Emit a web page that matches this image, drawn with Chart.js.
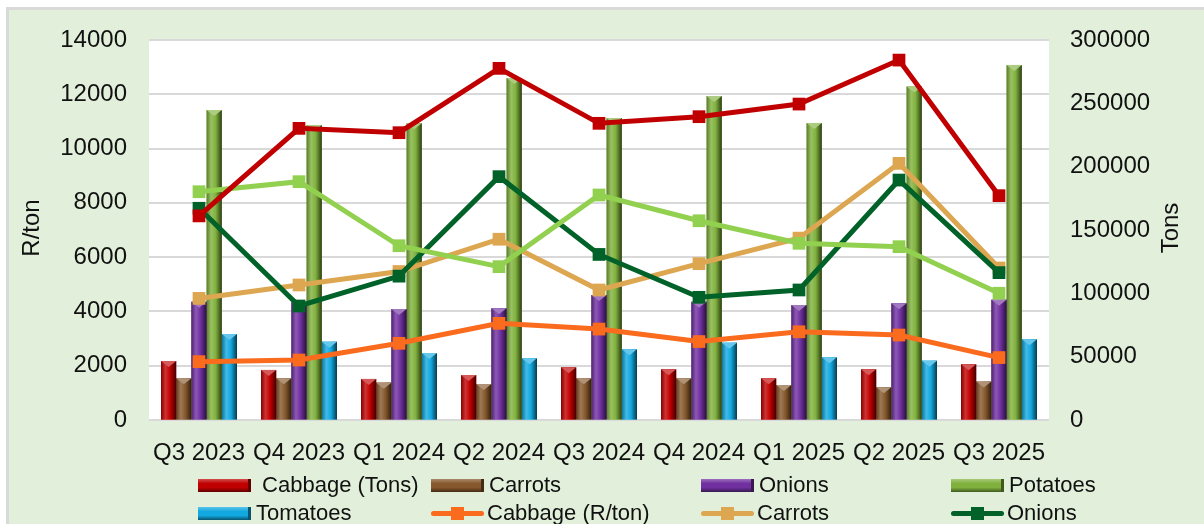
<!DOCTYPE html>
<html>
<head>
<meta charset="utf-8">
<script src="https://cdn.jsdelivr.net/npm/chart.js@4.4.1/dist/chart.umd.min.js"></script>
<style>
  html, body { margin: 0; padding: 0; background: #fff; overflow: hidden; width: 1204px; height: 524px; }
  #frame { position: absolute; left: 6px; top: 7px; width: 1300px; height: 700px; background: #E2EFDA; border: 3px solid #D9D9D9; }
  #chart-canvas { position: absolute; left: 0; top: 0; }
  #legend { position: absolute; left: 0; top: 0; width: 1204px; height: 600px; font-family: "Liberation Sans", Arial, sans-serif; font-size: 22px; color: #111; }
  .item { position: absolute; height: 28px; display: flex; align-items: center; white-space: pre; }
  .swatch { position: relative; width: 50px; height: 13px; margin-right: 5px; }
  .line { position: relative; width: 53px; height: 13px; margin-right: 3px; }
  .line .stroke { position: absolute; left: 0; right: 0; top: 4px; height: 5px; border-radius: 3px; }
  .line .mark { position: absolute; left: 20px; top: 0; width: 13px; height: 13px; }
</style>
</head>
<body>
<div id="frame"></div>
<canvas id="chart-canvas" width="1204" height="524"></canvas>
<div id="legend"></div>
<script>
// categories
const quarters = ['Q3 2023', 'Q4 2023', 'Q1 2024', 'Q2 2024', 'Q3 2024', 'Q4 2024', 'Q1 2025', 'Q2 2025', 'Q3 2025'];

// volumes (Tons, right axis) - bars
const cabbageTons  = [46600, 39500, 32400, 35500, 41600, 40000, 32900, 40000, 44000];
const carrotsTons  = [32900, 32900, 29500, 28400, 32900, 32900, 27600, 25800, 30300];
const onionsTons   = [93400, 93000, 87600, 88200, 98700, 93400, 90800, 92100, 95000];
const potatoesTons = [244700, 232900, 234300, 270000, 238400, 255800, 234500, 263200, 280300];
const tomatoesTons = [67900, 61800, 52900, 48700, 55800, 61000, 49500, 46800, 63700];

// prices (R/ton, left axis) - lines
const cabbagePrice  = [2150, 2210, 2825, 3560, 3350, 2890, 3250, 3130, 2300];
const carrotsPrice  = [4480, 4975, 5470, 6660, 4790, 5760, 6700, 9455, 5600];
const onionsPrice   = [7800, 4200, 5300, 8965, 6100, 4520, 4790, 8840, 5430];
const potatoesPrice = [8410, 8780, 6420, 5650, 8290, 7340, 6510, 6385, 4670];
const tomatoesPrice = [7520, 10745, 10585, 12955, 10930, 11175, 11640, 13260, 8265];

// axis settings
const leftTicks = { min: 0, max: 14000, step: 2000 };
const rightTicks = { min: 0, max: 300000, step: 50000 };
const axisTitles = ['R/ton', 'Tons'];

const FONT = '"Liberation Sans", Arial, sans-serif';

// colour helpers
function hexToRgb(hex) {
  const n = parseInt(hex.slice(1), 16);
  return [(n >> 16) & 255, (n >> 8) & 255, n & 255];
}
function mix(hex, target, t) {
  const a = hexToRgb(hex), b = hexToRgb(target);
  const c = a.map((v, i) => Math.round(v + (b[i] - v) * t));
  return `rgb(${c[0]}, ${c[1]}, ${c[2]})`;
}

function barDataset(label, data, color) {
  return {
    type: 'bar', label, data, yAxisID: 'y1', order: 10,
    backgroundColor: color, borderWidth: 0,
    barPercentage: 1, categoryPercentage: 0.76
  };
}
function lineDataset(label, data, color, order) {
  return {
    type: 'line', label, data, yAxisID: 'y', order,
    borderColor: color, backgroundColor: color, borderWidth: 5,
    pointStyle: 'rect', pointRadius: 9, pointHoverRadius: 9,
    pointBackgroundColor: color, pointBorderColor: color, pointBorderWidth: 0,
    tension: 0, fill: false
  };
}

const datasets = [
  barDataset(' Cabbage (Tons)', cabbageTons, '#C00000'),
  barDataset('Carrots', carrotsTons, '#86582C'),
  barDataset('Onions', onionsTons, '#7030A0'),
  barDataset('Potatoes', potatoesTons, '#80B13D'),
  barDataset('Tomatoes', tomatoesTons, '#12A9E0'),
  lineDataset('Cabbage (R/ton)', cabbagePrice, '#FA6B1E', 5),
  lineDataset('Carrots', carrotsPrice, '#DDA650', 4),
  lineDataset('Onions', onionsPrice, '#006228', 3),
  lineDataset('Potatoes', potatoesPrice, '#92D050', 2),
  lineDataset('Tomatoes', tomatoesPrice, '#C00000', 1)
];

// white plot area
const plotBackground = {
  id: 'plotBackground',
  beforeDraw(chart) {
    const { ctx, chartArea: a } = chart;
    ctx.save();
    ctx.fillStyle = '#fff';
    ctx.fillRect(a.left, a.top, a.right - a.left, a.bottom - a.top);
    ctx.restore();
  }
};

// cylinder shading on bars, drawn right after each bar dataset
const cylinderShade = {
  id: 'cylinderShade',
  afterDatasetDraw(chart, args) {
    const meta = args.meta;
    if (meta.type !== 'bar') return;
    const base = chart.data.datasets[args.index].backgroundColor;
    const ctx = chart.ctx;
    ctx.save();
    meta.data.forEach(bar => {
      const l = bar.x - bar.width / 2, r = bar.x + bar.width / 2;
      const g = ctx.createLinearGradient(l, 0, r, 0);
      g.addColorStop(0, mix(base, '#000000', 0.3));
      g.addColorStop(0.3, mix(base, '#ffffff', 0.2));
      g.addColorStop(0.6, base);
      g.addColorStop(1, mix(base, '#000000', 0.65));
      ctx.fillStyle = g;
      ctx.fillRect(l, bar.y, r - l, bar.base - bar.y);
      ctx.fillStyle = mix(base, '#ffffff', 0.35);
      ctx.beginPath();
      ctx.moveTo(l, bar.y);
      ctx.lineTo(r, bar.y);
      ctx.lineTo(bar.x, bar.y + 6);
      ctx.closePath();
      ctx.fill();
    });
    ctx.restore();
  }
};

// rotated axis titles, both reading bottom to top
const sideTitles = {
  id: 'sideTitles',
  afterDraw(chart) {
    const { ctx, chartArea: a } = chart;
    const midY = (a.top + a.bottom) / 2 - 2;
    ctx.save();
    ctx.font = `24px ${FONT}`;
    ctx.fillStyle = '#111';
    ctx.textAlign = 'center';
    ctx.textBaseline = 'middle';
    [[32, axisTitles[0]], [1171, axisTitles[1]]].forEach(([x, text]) => {
      ctx.save();
      ctx.translate(x, midY);
      ctx.rotate(-Math.PI / 2);
      ctx.fillText(text, 0, 0);
      ctx.restore();
    });
    ctx.restore();
  }
};

const plainNumber = v => String(v);

const canvas = document.getElementById('chart-canvas');
new Chart(canvas, {
  data: { labels: quarters, datasets },
  options: {
    responsive: false,
    animation: false,
    events: [],
    layout: { padding: { top: 40, left: 0, right: 0, bottom: 0 } },
    plugins: { legend: { display: false }, tooltip: { enabled: false } },
    scales: {
      x: {
        grid: { display: false },
        border: { display: false },
        ticks: { color: '#111', font: { family: FONT, size: 24 }, padding: 11, maxRotation: 0 },
        afterFit: s => { s.height = 104; }
      },
      y: {
        position: 'left', min: leftTicks.min, max: leftTicks.max,
        grid: { color: '#D9D9D9', lineWidth: 2, drawTicks: false },
        border: { display: false },
        ticks: { stepSize: leftTicks.step, color: '#111', font: { family: FONT, size: 24 }, padding: 22, callback: plainNumber },
        afterFit: s => { s.width = 149; }
      },
      y1: {
        position: 'right', min: rightTicks.min, max: rightTicks.max,
        grid: { drawOnChartArea: false, drawTicks: false },
        border: { display: false },
        ticks: { stepSize: rightTicks.step, color: '#111', font: { family: FONT, size: 24 }, padding: 21, callback: plainNumber },
        afterFit: s => { s.width = 155; }
      }
    }
  },
  plugins: [plotBackground, cylinderShade, sideTitles]
});

// legend: 4 fixed columns, rows spill past the bottom edge like the reference
const legendCols = [198, 431, 701, 951];
const legendRowY = [471, 499, 527];
const legend = document.getElementById('legend');
datasets.forEach((ds, i) => {
  const item = document.createElement('div');
  item.className = 'item';
  item.style.left = legendCols[i % 4] + 'px';
  item.style.top = legendRowY[Math.floor(i / 4)] + 'px';
  const c = ds.type === 'bar' ? ds.backgroundColor : ds.borderColor;
  let icon;
  if (ds.type === 'bar') {
    icon = document.createElement('div');
    icon.className = 'swatch';
    icon.style.background = `linear-gradient(to bottom, ${mix(c, '#ffffff', 0.3)} 0%, ${c} 35%, ${c} 65%, ${mix(c, '#000000', 0.5)} 100%)`;
    icon.style.borderRight = `3px solid ${mix(c, '#000000', 0.5)}`;
  } else {
    icon = document.createElement('div');
    icon.className = 'line';
    icon.innerHTML = `<div class="stroke" style="background:${c}"></div><div class="mark" style="background:${c}"></div>`;
  }
  item.appendChild(icon);
  const t = document.createElement('span');
  t.textContent = ds.label;
  item.appendChild(t);
  legend.appendChild(item);
});
</script>
</body>
</html>
